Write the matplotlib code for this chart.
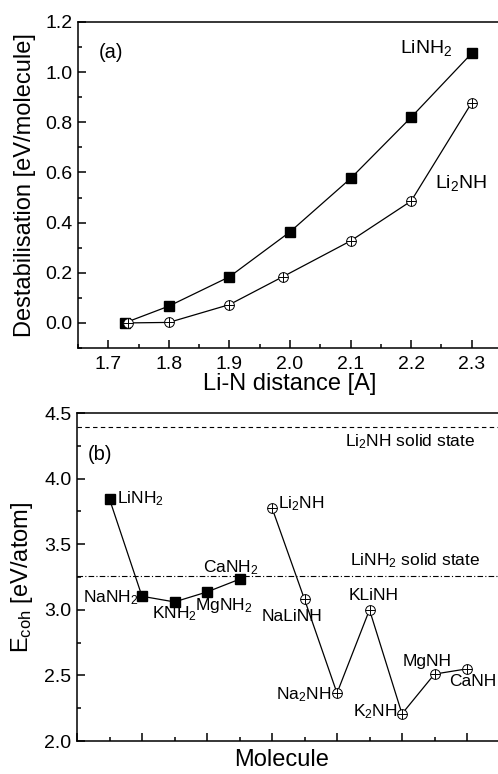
import matplotlib
matplotlib.use("Agg")
import matplotlib.pyplot as plt
from matplotlib.ticker import MultipleLocator, NullFormatter

plt.rcParams['font.family'] = ['Liberation Sans', 'DejaVu Sans']
plt.rcParams['mathtext.fontset'] = 'custom'
plt.rcParams['mathtext.rm'] = 'Liberation Sans'
plt.rcParams['mathtext.it'] = 'Liberation Sans'
plt.rcParams['mathtext.bf'] = 'Liberation Sans'

# ---- Panel (a) data ----
dist_linh2 = [1.727, 1.8, 1.9, 2.0, 2.1, 2.2, 2.3]
destab_linh2 = [0.0, 0.067, 0.184, 0.363, 0.576, 0.82, 1.075]
dist_li2nh = [1.732, 1.8, 1.9, 1.988, 2.1, 2.2, 2.3]
destab_li2nh = [0.0, 0.002, 0.073, 0.184, 0.327, 0.486, 0.878]

# ---- Panel (b) data ----
amide_names = ['LiNH$_2$', 'NaNH$_2$', 'KNH$_2$', 'MgNH$_2$', 'CaNH$_2$']
amide_pos = [1, 2, 3, 4, 5]
amide_ecoh = [3.844, 3.103, 3.06, 3.136, 3.233]
imide_names = ['Li$_2$NH', 'NaLiNH', 'Na$_2$NH', 'KLiNH', 'K$_2$NH', 'MgNH', 'CaNH']
imide_pos = [6, 7, 8, 9, 10, 11, 12]
imide_ecoh = [3.777, 3.08, 2.365, 3.0, 2.207, 2.51, 2.55]
li2nh_solid = 4.39
linh2_solid = 3.258

W, H = 498, 774
fig = plt.figure(figsize=(W / 100, H / 100), dpi=100)

lw = 0.9
spine_w = 1.1

def style(ax):
    for s in ax.spines.values():
        s.set_linewidth(spine_w)
    ax.tick_params(which='both', direction='in', top=False, right=False, width=spine_w)
    ax.tick_params(which='major', length=5.5, labelsize=14)
    ax.tick_params(axis='x', which='major', pad=6)
    ax.tick_params(axis='y', which='major', pad=4)
    ax.tick_params(which='minor', length=3)

def circ_plus(ax, x, y):
    ax.plot(x, y, '-', color='black', lw=lw, zorder=2)
    ax.plot(x, y, 'o', ms=7, mfc='white', mec='black', mew=0.7, zorder=3, linestyle='none')
    ax.plot(x, y, '+', ms=7, mec='black', mew=0.7, zorder=4, linestyle='none')

# ---- Top axes ----
ax1 = fig.add_axes([78 / W, 1 - 348 / H, (502 - 78) / W, (348 - 22) / H])
style(ax1)
ax1.plot(dist_linh2, destab_linh2, '-s', color='black', lw=lw, ms=6.5, zorder=3)
circ_plus(ax1, dist_li2nh, destab_li2nh)
ax1.set_xlim(1.65, 2.35)
ax1.set_ylim(-0.1, 1.2)
ax1.xaxis.set_major_locator(MultipleLocator(0.1))
ax1.xaxis.set_minor_locator(MultipleLocator(0.05))
ax1.yaxis.set_major_locator(MultipleLocator(0.2))
ax1.yaxis.set_minor_locator(MultipleLocator(0.1))
ax1.xaxis.set_major_formatter(plt.FuncFormatter(lambda v, p: f'{v:.1f}'))
ax1.yaxis.set_major_formatter(plt.FuncFormatter(lambda v, p: f'{v:.1f}'))
ax1.set_xlabel('Li-N distance [A]', fontsize=17, labelpad=0)
ax1.set_ylabel('Destabilisation [eV/molecule]', fontsize=17)
ax1.yaxis.set_label_coords(-0.098, 0.5)
ax1.text(1.685, 1.08, '(a)', fontsize=14.5, va='center', ha='left')
ax1.text(2.181, 1.076, 'LiNH$_2$', fontsize=14, va='baseline', ha='left')
ax1.text(2.239, 0.537, 'Li$_2$NH', fontsize=14, va='baseline', ha='left')

# ---- Bottom axes ----
ax2 = fig.add_axes([77 / W, 1 - 741 / H, (499.5 - 77) / W, (741 - 413) / H])
style(ax2)
ax2.axhline(li2nh_solid, color='black', lw=0.8, ls=(0, (4, 3)), zorder=1)
ax2.axhline(linh2_solid, color='black', lw=0.8, ls=(0, (5, 2, 1, 2)), zorder=1)
ax2.plot(amide_pos, amide_ecoh, '-s', color='black', lw=lw, ms=6.5, zorder=3)
circ_plus(ax2, imide_pos, imide_ecoh)
ax2.set_xlim(0, 13)
ax2.set_ylim(2.0, 4.5)
ax2.xaxis.set_major_locator(MultipleLocator(2))
ax2.xaxis.set_minor_locator(MultipleLocator(1))
ax2.xaxis.set_major_formatter(NullFormatter())
ax2.yaxis.set_major_locator(MultipleLocator(0.5))
ax2.yaxis.set_minor_locator(MultipleLocator(0.25))
ax2.yaxis.set_major_formatter(plt.FuncFormatter(lambda v, p: f'{v:.1f}'))
ax2.set_xlabel('Molecule', fontsize=17)
ax2.xaxis.set_label_coords(0.485, -0.025)
ax2.set_ylabel(r'E$_\mathrm{coh}$ [eV/atom]', fontsize=17)
ax2.yaxis.set_label_coords(-0.1, 0.5)

ax2.text(0.34, 4.14, '(b)', fontsize=14.5, va='baseline', ha='left')
ax2.text(8.25, 4.243, 'Li$_2$NH solid state', fontsize=12.5, va='baseline', ha='left')
ax2.text(8.4, 3.34, 'LiNH$_2$ solid state', fontsize=12.5, va='baseline', ha='left')

amide_lab = [(1.23, 3.815), (0.19, 3.06), (2.31, 2.935), (3.63, 2.996), (3.88, 3.286)]
for name, (tx, ty) in zip(amide_names, amide_lab):
    ax2.text(tx, ty, name, fontsize=12.5, va='baseline', ha='left')
imide_lab = [(6.18, 3.775), (5.69, 2.912), (6.12, 2.317), (8.37, 3.072), (8.49, 2.187), (10.03, 2.569), (11.45, 2.416)]
for name, (tx, ty) in zip(imide_names, imide_lab):
    ax2.text(tx, ty, name, fontsize=12.5, va='baseline', ha='left')

fig.savefig('out.png', dpi=100)
